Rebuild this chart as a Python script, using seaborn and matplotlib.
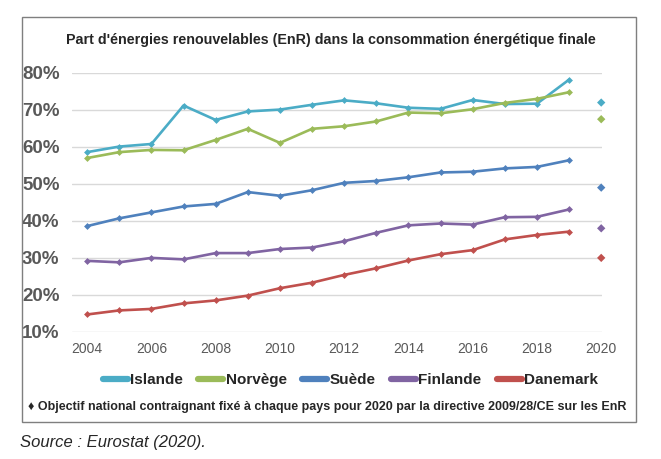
# Anteil erneuerbarer Energien - Liniendiagramm

import pandas as pd
import matplotlib.pyplot as plt
import seaborn as sns
from matplotlib.lines import Line2D
from matplotlib.patches import Rectangle


# Daten
jahre = list(range(2004, 2020))
laender = ['Islande', 'Norvège', 'Suède', 'Finlande', 'Danemark']
islande = [58.6, 60.1, 60.8, 71.2, 67.3, 69.6, 70.1, 71.4, 72.6, 71.8, 70.6, 70.3, 72.7, 71.6, 71.7, 78.2]
norvege = [57.0, 58.6, 59.2, 59.1, 61.9, 64.9, 61.1, 64.9, 65.6, 66.9, 69.3, 69.1, 70.2, 71.9, 73.0, 74.8]
suede = [38.6, 40.7, 42.3, 43.9, 44.6, 47.8, 46.8, 48.3, 50.3, 50.8, 51.8, 53.1, 53.3, 54.2, 54.6, 56.4]
finlande = [29.2, 28.8, 30.0, 29.6, 31.3, 31.3, 32.4, 32.8, 34.5, 36.8, 38.8, 39.3, 39.0, 41.0, 41.1, 43.1]
danemark = [14.7, 15.8, 16.2, 17.7, 18.5, 19.8, 21.8, 23.3, 25.4, 27.2, 29.3, 31.0, 32.1, 35.0, 36.2, 37.1]
# Ziele 2020 laut Richtlinie 2009/28/CE
objectifs_2020 = [72, 67.5, 49, 38, 30]
farben = ['#4BACC6', '#9BBB59', '#4F81BD', '#8064A2', '#C0504D']

x_ticks = list(range(2004, 2021, 2))
y_ticks = [10, 20, 30, 40, 50, 60, 70, 80]
y_labels = ['10%', '20%', '30%', '40%', '50%', '60%', '70%', '80%']

titel = "Part d'énergies renouvelables (EnR) dans la consommation énergétique finale"
hinweis = "♦ Objectif national contraignant fixé à chaque pays pour 2020 par la directive 2009/28/CE sur les EnR"
quelle = "Source : Eurostat (2020)."


# Long-Format fuer seaborn
werte = [islande, norvege, suede, finlande, danemark]
df = pd.DataFrame([
    {'Pays': land, 'Année': j, 'Part': w}
    for land, reihe in zip(laender, werte)
    for j, w in zip(jahre, reihe)
])
df_ziel = pd.DataFrame({'Pays': laender, 'Année': 2020, 'Part': objectifs_2020})
palette = dict(zip(laender, farben))


# Plot
sns.set_style('white')
plt.rcParams['font.family'] = ['Liberation Sans', 'DejaVu Sans']

fig = plt.figure(figsize=(6.61, 4.59), dpi=100)
ax = fig.add_axes([0.109, 0.277, 0.802, 0.564])

sns.lineplot(data=df, x='Année', y='Part', hue='Pays', palette=palette,
             marker='D', markersize=3.5, markeredgewidth=0, linewidth=1.9,
             legend=False, ax=ax)
sns.scatterplot(data=df_ziel, x='Année', y='Part', hue='Pays', palette=palette,
                marker='D', s=18, linewidth=0, legend=False, ax=ax, clip_on=False)

# Achsen
ax.set_xlim(2003.53, 2020.03)
ax.set_ylim(10, 80)
ax.set_xticks(x_ticks)
ax.set_xticklabels([str(x) for x in x_ticks], color='#595959', fontsize=10)
ax.set_yticks(y_ticks)
ax.set_yticklabels(y_labels, color='#595959', fontsize=13.5, fontweight='bold')
ax.tick_params(axis='y', length=0, pad=9)
ax.tick_params(axis='x', length=0, pad=7)
ax.set_xlabel('')
ax.set_ylabel('')
ax.grid(axis='y', color='#D9D9D9', linewidth=1)
ax.set_axisbelow(True)
for s in ax.spines.values():
    s.set_visible(False)

# Titel
fig.text(0.5, 0.913, titel, ha='center', va='center', fontsize=10.3, fontweight='bold')

# Legende
handles = [Line2D([0], [0], color=c, linewidth=4.5, solid_capstyle='round') for c in farben]
fig.legend(handles, laender, loc='center', bbox_to_anchor=(0.53, 0.172), ncol=5,
           frameon=False, handlelength=1.65, handletextpad=0.15, columnspacing=1.0,
           prop={'weight': 'bold', 'size': 11})

fig.text(0.495, 0.113, hinweis, ha='center', va='center', fontsize=9.0, fontweight='bold')

# Rahmen
fig.patches.append(Rectangle((0.033, 0.081), 0.929, 0.882, transform=fig.transFigure,
                             fill=False, edgecolor='#7F7F7F', linewidth=1))

# Quelle
fig.text(0.030, 0.035, quelle, ha='left', va='center', fontsize=12, style='italic')

plt.savefig('out.png', dpi=100)
